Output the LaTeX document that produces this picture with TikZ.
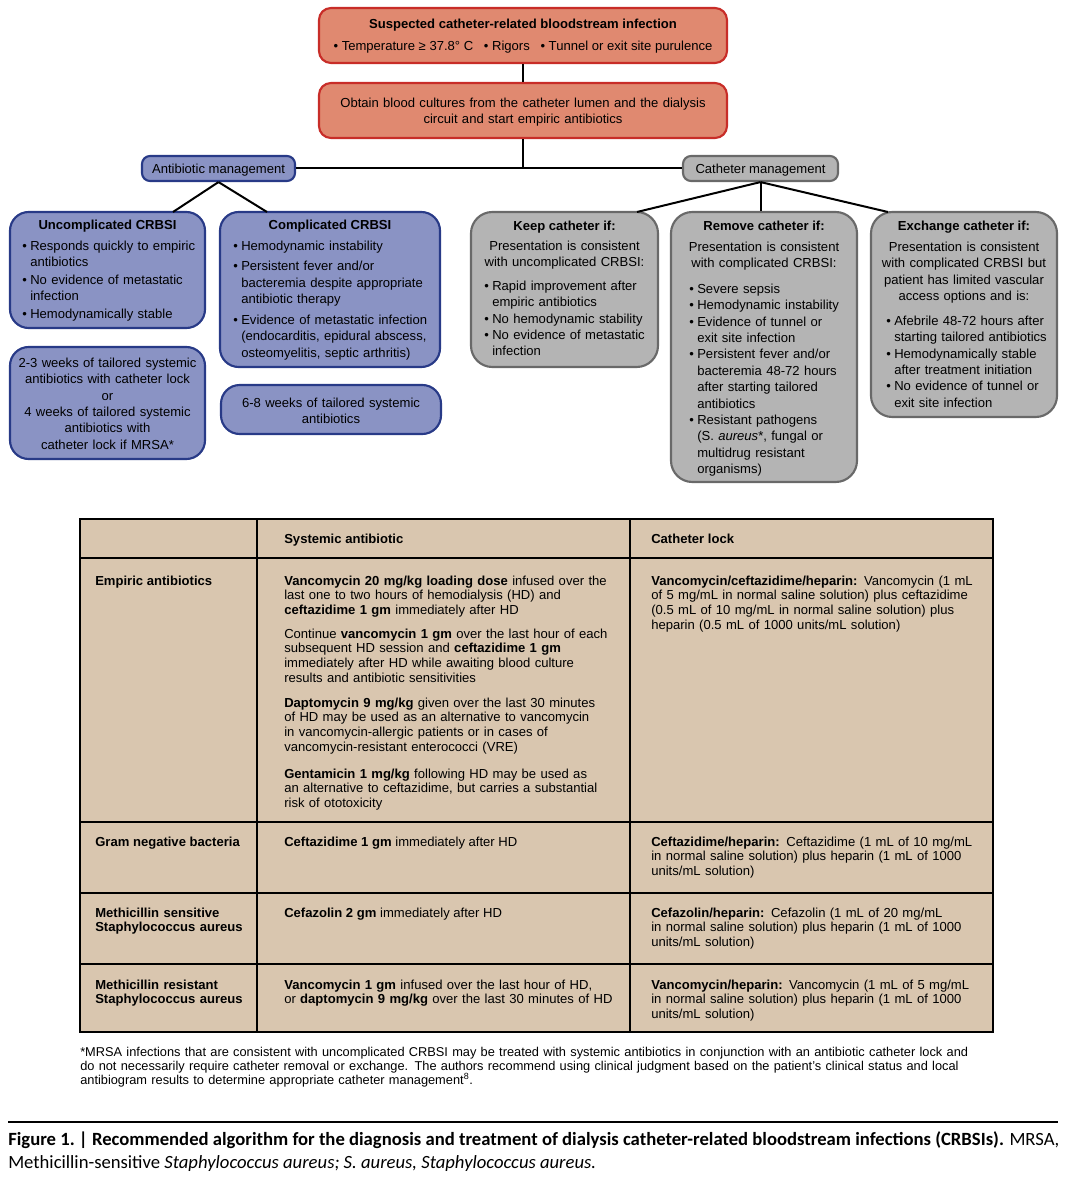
\documentclass[tikz,border=0pt]{standalone}
\usepackage{fontspec}
\setmainfont{Liberation Sans}
\newfontfamily\capfont{Carlito}
\usetikzlibrary{fit}
\definecolor{redfill}{RGB}{224,137,112}
\definecolor{redline}{RGB}{200,45,40}
\definecolor{bluefill}{RGB}{138,147,196}
\definecolor{blueline}{RGB}{40,58,135}
\definecolor{greyfill}{RGB}{180,180,180}
\definecolor{greyline}{RGB}{105,105,105}
\definecolor{tanfill}{RGB}{217,198,175}
\newcommand\boxfont{\fontsize{9.8}{12.3}\selectfont}
\newcommand\tabfont{\fontsize{9.8}{11}\selectfont}
\newcommand\footfont{\fontsize{9.6}{10.5}\selectfont}
\newlength\bulw \setlength\bulw{6pt}
\newcommand\bfirst{\hangindent=\bulw\hangafter=1\makebox[\bulw][l]{\textbullet}\strut}
\newcommand\bitem{\par\hangindent=\bulw\hangafter=1\noindent\makebox[\bulw][l]{\textbullet}\strut}
\tikzset{
 redbox/.style={draw=redline, fill=redfill, line width=1.6pt, rounded corners=9pt, inner sep=0pt},
 bluebox/.style={draw=blueline, fill=bluefill, line width=1.6pt, rounded corners=#1, inner sep=0pt},
 bluebox/.default=14pt,
 greybox/.style={draw=greyline, fill=greyfill, line width=1.6pt, rounded corners=#1, inner sep=0pt},
 greybox/.default=16pt,
 lbl/.style={inner sep=0pt, font=\boxfont},
 blk/.style={inner sep=0pt, font=\boxfont, text width=#1, align=center, anchor=north},
 lst/.style={inner sep=0pt, font=\boxfont, text width=#1, align=left, anchor=north west},
 tcell/.style={inner sep=0pt, font=\tabfont, text width=#1, align=left, anchor=north west},
 tword/.style={inner sep=0pt, font=\tabfont, anchor=base west},
 conn/.style={line width=1.5pt, black},
 tline/.style={line width=1.6pt, black},
}
\begin{document}
\begin{tikzpicture}[x=0.75pt,y=-0.75pt]
\useasboundingbox[fill=white] (0,0) rectangle (1066,1177);

% ---------- top boxes
\node[redbox, fit={(319,8) (727,63)}] (susp) {};
\node[lbl, anchor=base] (suspT) at (523,29) {\textbf{Suspected catheter-related bloodstream infection}};
\node[lbl, anchor=base] (suspS) at (523,51) {\textbullet\ Temperature ≥ 37.8° C\hspace{8pt}\textbullet\ Rigors\hspace{8pt}\textbullet\ Tunnel or exit site purulence};

\node[redbox, fit={(319,83) (727,138)}] (obtain) {};
\node[blk=390pt] (obtainT) at (523,95.5) {\strut Obtain blood cultures from the catheter lumen and the dialysis\\circuit and start empiric antibiotics};

\node[bluebox=6pt, fit={(142,156) (295,181)}] (ab) {};
\node[lbl, anchor=base] (abT) at (218.5,173) {Antibiotic management};
\node[greybox=6pt, fit={(683,156) (838,181)}] (cm) {};
\node[lbl, anchor=base] (cmT) at (760.5,173) {Catheter management};

% ---------- antibiotic branch
\node[bluebox, fit={(10,212) (205,328)}] (unc) {};
\node[lbl, anchor=base] (uncT) at (107.5,229) {\textbf{Uncomplicated CRBSI}};
\node[lst=180pt] (uncL) at (22,238.5) {\setlength\parskip{1pt}%
\bfirst Responds quickly to empiric\newline antibiotics
\bitem No evidence of metastatic\newline infection
\bitem Hemodynamically stable\par};

\node[bluebox, fit={(220,212) (440,367)}] (comp) {};
\node[lbl, anchor=base] (compT) at (330,229) {\textbf{Complicated CRBSI}};
\node[lst=200pt] (compL) at (233,238.5) {\setlength\parskip{3.2pt}%
\bfirst Hemodynamic instability
\bitem Persistent fever and/or\newline bacteremia despite appropriate\newline antibiotic therapy
\bitem Evidence of metastatic infection\newline (endocarditis, epidural abscess,\newline osteomyelitis, septic arthritis)\par};

\node[bluebox, fit={(10,347) (205,459)}] (uncR) {};
\node[blk=180pt] (uncRT) at (107.5,355.5) {\strut 2-3 weeks of tailored systemic\\antibiotics with catheter lock\\or\\4 weeks of tailored systemic\\antibiotics with\\catheter lock if MRSA*};

\node[bluebox, fit={(221,385) (441,434)}] (compR) {};
\node[blk=200pt] (compRT) at (331,395.5) {\strut 6-8 weeks of tailored systemic\\antibiotics};

% ---------- catheter branch
\node[greybox, fit={(471,212) (658,367)}] (keep) {};
\node[lbl, anchor=base] (keepT) at (564.5,230) {\textbf{Keep catheter if:}};
\node[blk=180pt] (keepI) at (564.5,238.5) {\strut Presentation is consistent\\with uncomplicated CRBSI:};
\node[lst=180pt] (keepL) at (484,278.5) {%
\bfirst Rapid improvement after\newline empiric antibiotics
\bitem No hemodynamic stability
\bitem No evidence of metastatic\newline infection\par};

\node[greybox, fit={(671,212) (857,482)}] (rem) {};
\node[lbl, anchor=base] (remT) at (764,230) {\textbf{Remove catheter if:}};
\node[blk=180pt] (remI) at (764,239.5) {\strut Presentation is consistent\\with complicated CRBSI:};
\node[lst=180pt] (remL) at (689,281.5) {%
\bfirst Severe sepsis
\bitem Hemodynamic instability
\bitem Evidence of tunnel or\newline exit site infection
\bitem Persistent fever and/or\newline bacteremia 48-72 hours\newline after starting tailored\newline antibiotics
\bitem Resistant pathogens\newline (S. \textit{aureus}*, fungal or\newline multidrug resistant\newline organisms)\par};

\node[greybox, fit={(871,212) (1057,417)}] (ex) {};
\node[lbl, anchor=base] (exT) at (964,230) {\textbf{Exchange catheter if:}};
\node[blk=180pt] (exI) at (964,239.5) {\strut Presentation is consistent\\with complicated CRBSI but\\patient has limited vascular\\access options and is:};
\node[lst=180pt] (exL) at (886,313.5) {%
\bfirst Afebrile 48-72 hours after\newline starting tailored antibiotics
\bitem Hemodynamically stable\newline after treatment initiation
\bitem No evidence of tunnel or\newline exit site infection\par};

% ---------- connectors
\draw[conn] (susp.south) -- (obtain.north);
\draw[conn] (obtain.south) -- (obtain.south |- ab.east);
\draw[conn] (ab.east) -- (cm.west);
\coordinate (uncTop) at (173,212);
\coordinate (compTop) at (267,212);
\coordinate (keepTop) at (637,212);
\coordinate (exTop) at (888,212);
\draw[conn] (ab.south) -- (uncTop);
\draw[conn] (ab.south) -- (compTop);
\draw[conn] (cm.south) -- (keepTop);
\draw[conn] (cm.south) -- (cm.south |- rem.north);
\draw[conn] (cm.south) -- (exTop);

% ---------- table
\node[fit={(80,519) (993,1032)}, fill=tanfill, draw=black, line width=1.6pt, inner sep=0pt] (tbl) {};
\draw[tline] (80,558) -- (993,558);
\draw[tline] (80,822) -- (993,822);
\draw[tline] (80,893) -- (993,893);
\draw[tline] (80,964) -- (993,964);
\draw[tline] (257,519) -- (257,1032);
\draw[tline] (630,519) -- (630,1032);

\node[tword] (h2) at (284,543) {\textbf{Systemic antibiotic}};
\node[tword] (h3) at (651,543) {\textbf{Catheter lock}};

\node[tword] (r1a) at (95,585) {\textbf{Empiric antibiotics}};
\node[tcell=330pt] (r1b1) at (284,574.7) {\strut\textbf{Vancomycin 20 mg/kg loading dose} infused over the\\last one to two hours of hemodialysis (HD) and\\\textbf{ceftazidime 1 gm} immediately after HD};
\node[tcell=330pt] (r1b2) at (284,627.7) {\strut Continue \textbf{vancomycin 1 gm} over the last hour of each\\subsequent HD session and \textbf{ceftazidime 1 gm}\\immediately after HD while awaiting blood culture\\results and antibiotic sensitivities};
\node[tcell=330pt] (r1b3) at (284,696.7) {\strut\textbf{Daptomycin 9 mg/kg} given over the last 30 minutes\\of HD may be used as an alternative to vancomycin\\in vancomycin-allergic patients or in cases of\\vancomycin-resistant enterococci (VRE)};
\node[tcell=330pt] (r1b4) at (284,767.7) {\strut\textbf{Gentamicin 1 mg/kg} following HD may be used as\\an alternative to ceftazidime, but carries a substantial\\risk of ototoxicity};
\node[tcell=330pt] (r1c) at (651,574.7) {\strut\textbf{Vancomycin/ceftazidime/heparin:} Vancomycin (1 mL\\of 5 mg/mL in normal saline solution) plus ceftazidime\\(0.5 mL of 10 mg/mL in normal saline solution) plus\\heparin (0.5 mL of 1000 units/mL solution)};

\node[tword] (r2a) at (95,846) {\textbf{Gram negative bacteria}};
\node[tword] (r2b) at (284,846) {\textbf{Ceftazidime 1 gm} immediately after HD};
\node[tcell=330pt] (r2c) at (651,835.7) {\strut\textbf{Ceftazidime/heparin:} Ceftazidime (1 mL of 10 mg/mL\\in normal saline solution) plus heparin (1 mL of 1000\\units/mL solution)};

\node[tcell=160pt] (r3a) at (95,906.7) {\strut\textbf{Methicillin sensitive}\\\textbf{Staphylococcus aureus}};
\node[tword] (r3b) at (284,917) {\textbf{Cefazolin 2 gm} immediately after HD};
\node[tcell=330pt] (r3c) at (651,906.7) {\strut\textbf{Cefazolin/heparin:} Cefazolin (1 mL of 20 mg/mL\\in normal saline solution) plus heparin (1 mL of 1000\\units/mL solution)};

\node[tcell=160pt] (r4a) at (95,978.7) {\strut\textbf{Methicillin resistant}\\\textbf{Staphylococcus aureus}};
\node[tcell=330pt] (r4b) at (284,978.7) {\strut\textbf{Vancomycin 1 gm} infused over the last hour of HD,\\or \textbf{daptomycin 9 mg/kg} over the last 30 minutes of HD};
\node[tcell=330pt] (r4c) at (651,978.7) {\strut\textbf{Vancomycin/heparin:} Vancomycin (1 mL of 5 mg/mL\\in normal saline solution) plus heparin (1 mL of 1000\\units/mL solution)};

% ---------- footnote
\node[inner sep=0pt, font=\footfont, text width=950pt, align=left, anchor=north west] (fn) at (80,1046.2) {\strut *MRSA infections that are consistent with uncomplicated CRBSI may be treated with systemic antibiotics in conjunction with an antibiotic catheter lock and\\do not necessarily require catheter removal or exchange. The authors recommend using clinical judgment based on the patient’s clinical status and local\\antibiogram results to determine appropriate catheter management\textsuperscript{8}.};

% ---------- caption
\coordinate (ruleL) at (8,1122);
\coordinate (ruleR) at (1058,1122);
\draw[line width=1.9pt] (ruleL) -- (ruleR);
\node[inner sep=0pt, anchor=base west, font=\capfont\fontsize{14}{17}\selectfont] (cap1) at (8,1145) {\textbf{Figure 1.\ |\ Recommended algorithm for the diagnosis and treatment of dialysis catheter-related bloodstream infections (CRBSIs).} MRSA,};
\node[inner sep=0pt, anchor=base west, font=\capfont\fontsize{14}{17}\selectfont] (cap2) at (8,1168) {Methicillin-sensitive \textit{Staphylococcus aureus;} \textit{S. aureus,} \textit{Staphylococcus aureus.}};
\end{tikzpicture}
\end{document}
